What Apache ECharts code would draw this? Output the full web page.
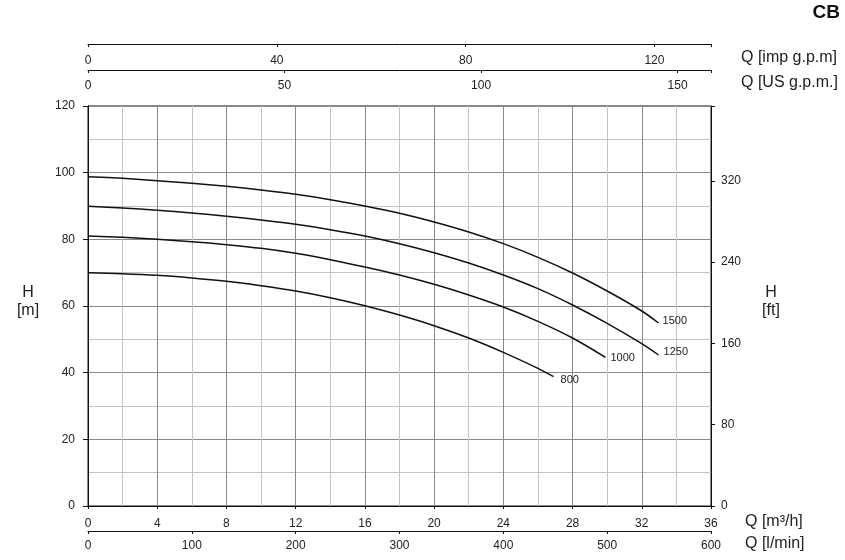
<!DOCTYPE html>
<html>
<head>
<meta charset="utf-8">
<script src="https://cdn.jsdelivr.net/npm/echarts@6/dist/echarts.min.js"></script>
<style>
  html, body { margin: 0; padding: 0; background: #fff; }
  #chart { width: 845px; height: 560px; }
</style>
</head>
<body>
<div id="chart"></div>
<script>
// pump curves, Q in m3/h, H in m
const flow1500 = [0, 2, 4, 6, 8, 10, 12, 14, 16, 18, 20, 22, 24, 26, 28, 30, 32, 32.97]
const head1500 = [98.8, 98.3, 97.6, 96.8, 95.9, 94.8, 93.5, 91.9, 90.0, 87.8, 85.2, 82.2, 78.7, 74.6, 69.9, 64.5, 58.5, 54.9]

const flow1250 = [0, 2, 4, 6, 8, 10, 12, 14, 16, 18, 20, 22, 24, 26, 28, 30, 32, 32.97]
const head1250 = [89.9, 89.4, 88.7, 87.9, 86.9, 85.8, 84.5, 82.9, 81.0, 78.7, 76.0, 72.9, 69.3, 65.2, 60.3, 54.8, 48.7, 45.3]

const flow1000 = [0, 2, 4, 6, 8, 10, 12, 14, 16, 18, 20, 22, 24, 26, 28, 29.9]
const head1000 = [81.0, 80.6, 80.0, 79.3, 78.4, 77.3, 75.8, 73.9, 71.7, 69.3, 66.5, 63.3, 59.7, 55.4, 50.4, 44.6]

const flow800 = [0, 2, 4, 6, 8, 10, 12, 14, 16, 18, 20, 22, 24, 26, 26.9]
const head800 = [70.0, 69.7, 69.2, 68.4, 67.4, 66.1, 64.5, 62.5, 60.1, 57.3, 54.1, 50.4, 46.1, 41.3, 38.8]

const curveNames = ['1500', '1250', '1000', '800']
const labelOffsets = [[0, -2], [1, -3], [1, 1], [3, 3]]

// unit conversions for the extra axes (36 m3/h = 600 l/min)
const qMax = 36
const lminMax = 600
const impMax = 131.98
const usMax = 158.5
const ftMax = 393.7

let chart = echarts.init(document.getElementById('chart'))

const font = 'Liberation Sans, Arial, sans-serif'
const txt = '#222'

function pairs(xs, ys) {
  return xs.map((x, i) => [x, ys[i]])
}

function curve(name, xs, ys, idx) {
  return {
    name: name,
    type: 'line',
    data: pairs(xs, ys),
    smooth: 0.3,
    showSymbol: false,
    silent: true,
    lineStyle: { color: '#111', width: 1.5 },
    endLabel: {
      show: true,
      formatter: name,
      distance: 4,
      offset: labelOffsets[idx],
      color: txt,
      fontSize: 11,
      fontFamily: font
    }
  }
}

function onlyEvery(step) {
  return function (v) {
    return Math.abs(v % step) < 1e-6 ? String(v) : ''
  }
}

let option = {
  animation: false,
  textStyle: { fontFamily: font },
  grid: {
    left: 88,
    right: 134,
    top: 106,
    bottom: 54,
    show: true,
    borderColor: '#111',
    borderWidth: 1
  },
  xAxis: [
    {
      type: 'value',
      position: 'bottom',
      min: 0,
      max: qMax,
      interval: 4,
      axisLine: { onZero: false, lineStyle: { color: '#111', width: 1 } },
      axisTick: { show: true, length: 3, lineStyle: { color: '#111' } },
      axisLabel: { color: txt, fontSize: 12, margin: 12 },
      splitLine: { show: true, lineStyle: { color: '#888', width: 1 } },
      minorTick: { show: false, splitNumber: 2 },
      minorSplitLine: { show: true, lineStyle: { color: '#c4c4c4', width: 1 } }
    },
    {
      type: 'value',
      position: 'bottom',
      offset: 25,
      min: 0,
      max: lminMax,
      interval: 100,
      axisLine: { show: true, onZero: false, lineStyle: { color: '#111', width: 1 } },
      axisTick: { show: true, length: 3, lineStyle: { color: '#111' } },
      axisLabel: { color: txt, fontSize: 12, margin: 9 },
      splitLine: { show: false }
    },
    {
      type: 'value',
      position: 'top',
      offset: 62,
      min: 0,
      max: impMax,
      interval: 40,
      axisLine: { show: true, onZero: false, lineStyle: { color: '#111', width: 1 } },
      axisTick: { show: true, inside: true, length: 3, lineStyle: { color: '#111' } },
      axisLabel: { inside: true, color: txt, fontSize: 12, margin: 11, formatter: onlyEvery(40) },
      splitLine: { show: false }
    },
    {
      type: 'value',
      position: 'top',
      offset: 36,
      min: 0,
      max: usMax,
      interval: 50,
      axisLine: { show: true, onZero: false, lineStyle: { color: '#111', width: 1 } },
      axisTick: { show: true, inside: true, length: 3, lineStyle: { color: '#111' } },
      axisLabel: { inside: true, color: txt, fontSize: 12, margin: 10, formatter: onlyEvery(50) },
      splitLine: { show: false }
    }
  ],
  yAxis: [
    {
      type: 'value',
      position: 'left',
      min: 0,
      max: 120,
      interval: 20,
      axisLine: { show: true, onZero: false, lineStyle: { color: '#111', width: 1 } },
      axisTick: { show: true, length: 5, lineStyle: { color: '#111' } },
      axisLabel: { color: txt, fontSize: 12, margin: 13 },
      splitLine: { show: true, lineStyle: { color: '#888', width: 1 } },
      minorTick: { show: false, splitNumber: 2 },
      minorSplitLine: { show: true, lineStyle: { color: '#c4c4c4', width: 1 } }
    },
    {
      type: 'value',
      position: 'right',
      min: 0,
      max: ftMax,
      interval: 80,
      axisLine: { show: true, onZero: false, lineStyle: { color: '#111', width: 1 } },
      axisTick: { show: true, length: 4, lineStyle: { color: '#111' } },
      axisLabel: { color: txt, fontSize: 12, margin: 10, formatter: onlyEvery(80) },
      splitLine: { show: false }
    }
  ],
  graphic: [
    { type: 'text', left: 741, top: 50, style: { text: 'Q [imp g.p.m]', font: '16px ' + font, fill: txt } },
    { type: 'text', left: 741, top: 75, style: { text: 'Q [US g.p.m.]', font: '16px ' + font, fill: txt } },
    { type: 'text', left: 745, top: 514, style: { text: 'Q [m³/h]', font: '16px ' + font, fill: txt } },
    { type: 'text', left: 745, top: 536, style: { text: 'Q [l/min]', font: '16px ' + font, fill: txt } },
    { type: 'text', x: 28, y: 284, style: { text: 'H\n[m]', font: '16px ' + font, fill: txt, align: 'center', lineHeight: 18 } },
    { type: 'text', x: 771, y: 284, style: { text: 'H\n[ft]', font: '16px ' + font, fill: txt, align: 'center', lineHeight: 18 } },
    { type: 'text', right: 5, top: 3, style: { text: 'CB', font: 'bold 19px ' + font, fill: '#111' } }
  ],
  series: [
    curve(curveNames[0], flow1500, head1500, 0),
    curve(curveNames[1], flow1250, head1250, 1),
    curve(curveNames[2], flow1000, head1000, 2),
    curve(curveNames[3], flow800, head800, 3)
  ]
}

chart.setOption(option)
</script>
</body>
</html>
